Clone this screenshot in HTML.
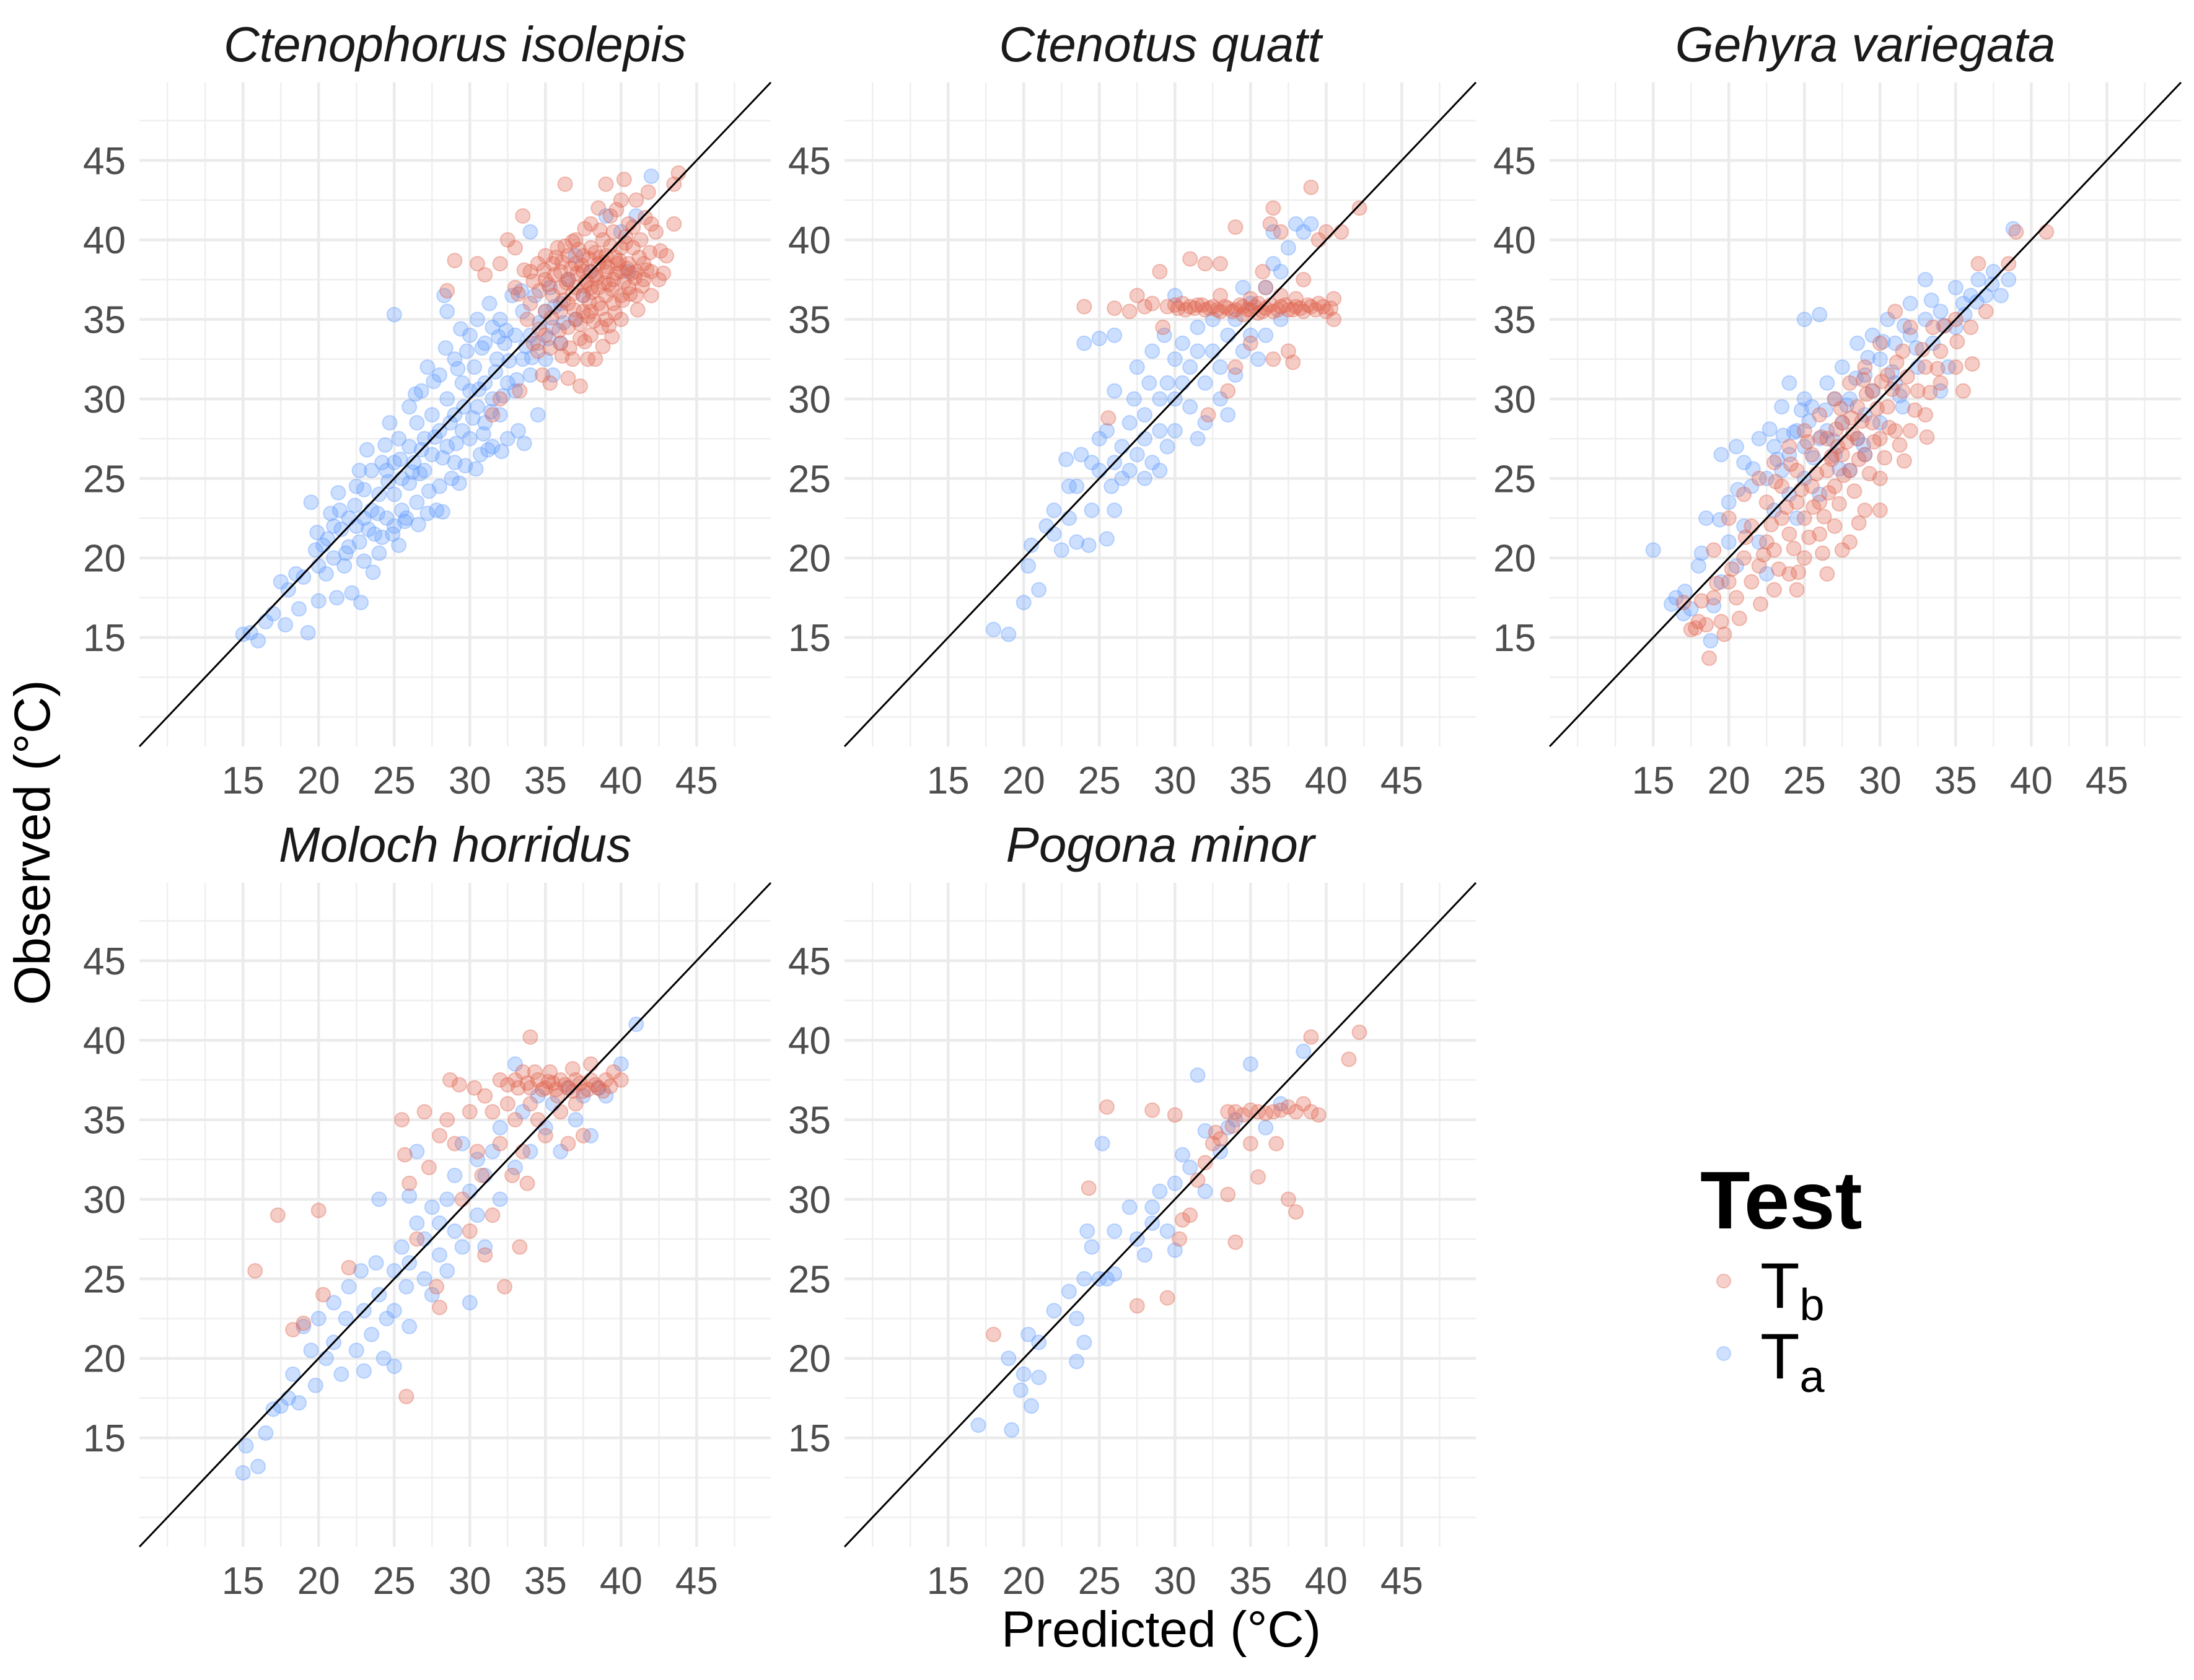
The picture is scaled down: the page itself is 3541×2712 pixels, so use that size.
<!DOCTYPE html>
<html><head><meta charset="utf-8">
<style>
html,body{margin:0;padding:0;background:#fff;}
svg{display:block;font-family:"Liberation Sans",Arial,sans-serif;}
</style></head>
<body>
<svg id="chart" width="3541" height="2712" viewBox="0 0 3541 2712" xmlns="http://www.w3.org/2000/svg">
<rect width="3541" height="2712" fill="#fff"/>
<g id="panels"></g>
<text x="0" y="0" transform="translate(80,1360) rotate(-90)" text-anchor="middle" font-size="82" fill="#000">Observed (°C)</text>
<text x="1874" y="2658" text-anchor="middle" font-size="82" fill="#000">Predicted (°C)</text>
<g>
<text x="2744" y="1983" font-size="132" font-weight="bold" fill="#000">Test</text>
<circle cx="2782" cy="2068" r="11" fill="#E0654F" fill-opacity="0.3" stroke="#E0654F" stroke-opacity="0.35" stroke-width="2"/>
<text x="2841" y="2111" font-size="104" fill="#000">T<tspan font-size="72" dy="20">b</tspan></text>
<circle cx="2782" cy="2185" r="11" fill="#619CFF" fill-opacity="0.3" stroke="#619CFF" stroke-opacity="0.35" stroke-width="2"/>
<text x="2841" y="2225" font-size="104" fill="#000">T<tspan font-size="72" dy="22">a</tspan></text>
</g>
</svg>
<script>
const speciesNames = ["Ctenophorus isolepis","Ctenotus quatt","Gehyra variegata","Moloch horridus","Pogona minor"];
const tickLabels = [15,20,25,30,35,40,45];
const minorGrid = [10,12.5,17.5,22.5,27.5,32.5,37.5,42.5,47.5];

const ciTa = [[15,15.2],[15.5,15.3],[16,14.8],[16.5,16],[17,16.5],[17.5,18.5],[18,18],[18.5,19],[18.7,16.8],[19,18.8],[19.5,23.5],[19.8,20.5],[20,19.5],[20,17.3],[20.3,20.8],[20.5,19],[21,22],[21,20],[21.2,17.5],[21.5,21.8],[21.7,19.5],[22,22.5],[22,20.7],[22.2,17.8],[22.5,24.5],[22.5,22],[22.7,21],[23,24.3],[23,22.5],[23,19.8],[23.2,26.8],[23.5,25.5],[23.5,23],[23.7,21.5],[24,24],[24,20.3],[24.2,26],[24.5,25.5],[24.5,22.5],[24.7,28.5],[25,26],[25,24],[25,22],[25,35.3],[25.3,27.5],[25.5,25],[25.5,23],[25.8,22.5],[26,29.5],[26,27],[26,24.7],[26.3,26],[26.5,28.5],[26.5,23.5],[26.8,30.5],[27,27.5],[27,25.5],[27.2,32],[27.5,29],[27.5,26.5],[27.8,23],[28,31.5],[28,28],[28,24.5],[28.3,36.5],[28.5,35.5],[28.5,30],[28.5,27],[28.8,25],[29,32.5],[29,29],[29,26],[29.3,24.7],[29.5,31],[29.5,28],[29.8,33],[30,30.5],[30,27.5],[30,34],[30.3,32],[30.5,29.5],[30.5,35],[30.7,26.5],[31,33.5],[31,31],[31,28.5],[31.3,36],[31.5,34.5],[31.5,30],[31.5,27],[31.8,32.5],[32,35],[32,29],[32.3,33.5],[32.5,31],[32.5,27.5],[32.8,36.5],[33,34],[33,30.5],[33.2,28],[33.5,35.5],[33.5,32.5],[34,34],[34,31.5],[34,40.5],[34.3,36.5],[34.5,33.5],[34.5,29],[35,35.5],[35,32.5],[35.3,37],[35.5,34.5],[35.5,31.5],[36,36],[36,33.5],[36.5,37.5],[37,35],[37,39],[38,38],[39,41.5],[40,40.5],[41,41.5],[42,44],[40.5,38],[37.5,36.5],[22.8,17.2],[19.3,15.3],[17.8,15.8],[21.4,23],[24.2,21.3],[26.7,25.3],[29.7,25.8],[31.2,26.8],[32.1,26.7],[28.2,22.9],[27.2,22.8]];
const ciTaExtra = [[20.6,21.2],[21.8,20.3],[22.4,23.3],[23.3,21.8],[23.9,22.8],[24.6,24.8],[24.9,21.5],[25.4,26.2],[25.7,22.3],[26.2,25.4],[26.8,26.8],[27.3,24.2],[27.7,27.6],[28.2,26.3],[28.7,28.5],[29.1,27.2],[29.6,29.5],[30.2,28.8],[30.6,30.6],[30.9,27.8],[31.4,29.2],[31.7,31.7],[32.2,30.2],[32.6,32.4],[33.1,31.2],[33.7,33.3],[34.1,32.6],[34.6,34.8],[35.2,33.8],[35.6,35.8],[36.2,34.8],[28.4,33.2],[27.6,31.1],[26.4,30.3],[29.4,34.4],[30.8,33.2],[32.4,34.3],[33.4,36.8],[24.4,27.1],[22.7,25.5],[21.3,24.1],[20.8,22.8],[19.9,21.6],[25.3,20.8],[26.6,22.1],[33.6,27.2],[30.4,25.6],[29.2,31.9],[31.9,33.9],[23.6,19.1]];
const ciTb = [[28.5,36.8],[29,38.7],[30.5,38.5],[31,37.8],[32,38.5],[32.5,40],[33,39.5],[33,37],[33.5,41.5],[33.8,35],[34,38],[34,36],[34.5,38.5],[34.5,33],[34.8,31.5],[35,39],[35,37.5],[35,35.5],[35,34],[35.3,31],[35.5,38.5],[35.5,36.5],[35.8,39.5],[36,38],[36,37],[36,35.5],[36,33.5],[36.3,43.5],[36.5,39],[36.5,37.5],[36.5,36],[36.5,34.5],[36.8,32.5],[37,38.5],[37,37],[37,35],[37,40],[37.3,33.8],[37.5,39],[37.5,38],[37.5,36.5],[37.5,35.5],[37.8,32.5],[38,41],[38,39.5],[38,38],[38,37],[38,35.5],[38,34],[38.3,32.5],[38.5,38.5],[38.5,37],[38.5,36],[38.5,42],[38.8,40],[39,39],[39,38],[39,36.5],[39,35],[39,43.5],[39.3,41.5],[39.5,37.5],[39.5,36],[39.5,40.5],[39.8,38.5],[40,42.5],[40,39.5],[40,38],[40,36.5],[40,35],[40.2,43.8],[40.5,41],[40.5,38.5],[40.5,37],[40.8,39.5],[41,38],[41,42.5],[41,36.5],[41.3,40],[41.5,38.5],[41.5,37.5],[41.8,43],[42,41],[42,38],[42,36.5],[42.3,40.5],[42.5,37.5],[43,39],[43.5,41],[43.8,44.2],[43.5,43.5],[37.3,30.8],[36.5,31.3],[33.3,30.5],[31.5,29],[32,30],[34.2,33.5],[38.7,34.5],[40.3,39.8],[39.6,38.9],[38.3,37.8],[37.7,37.4],[36.7,38.2],[39.2,37.2],[40.7,37.9],[37.9,36.1],[38.9,38.6]];
const ciTbExtra = [[35.2,37.2],[35.6,37.8],[36.1,38.6],[36.4,37.3],[36.8,36.6],[37.1,37.9],[37.4,38.4],[37.6,37.1],[37.9,38.8],[38.1,36.7],[38.4,37.6],[38.6,38.9],[38.9,37.3],[39.1,38.3],[39.4,36.9],[39.7,37.9],[39.9,38.7],[40.2,37.4],[40.4,38.2],[40.6,36.6],[40.9,37.6],[41.2,38.9],[41.4,37.1],[41.7,38.1],[41.9,39.2],[36.2,36.2],[36.9,35.6],[37.3,34.7],[37.8,35.2],[38.2,34.9],[38.7,35.7],[39.2,34.6],[39.6,35.4],[40.1,36.2],[35.4,35.1],[35.9,34.3],[36.6,33.2],[37.6,33.6],[38.8,33.3],[39.4,33.9],[34.6,36.8],[34.2,37.4],[33.6,38.1],[33.2,36.6],[34.9,38.1],[35.7,38.9],[36.3,39.6],[37.2,39.4],[38.3,39.2],[39.3,39.6],[40.3,40.2],[40.8,40.8],[41.6,41.4],[39.7,41.9],[38.6,40.6],[37.6,40.7],[36.8,39.9],[35.3,33.2],[34.6,34.4],[36.1,32.7],[42.6,39.3],[42.8,37.9],[41.1,35.6]];

const cqTa = [[18,15.5],[19,15.2],[20,17.2],[20.3,19.5],[20.5,20.8],[21,18],[21.5,22],[22,21.5],[22,23],[22.5,20.5],[22.8,26.2],[23,22.5],[23.5,21],[23.5,24.5],[23.8,26.5],[24,33.5],[24.3,20.8],[24.5,26],[24.5,23],[25,25.5],[25,27.5],[25,33.8],[25.5,21.2],[25.5,28],[25.8,24.5],[26,26],[26,30.5],[26,34],[26.5,25],[26.5,27],[27,28.5],[27,25.5],[27.3,30],[27.5,32],[27.5,26.5],[28,29],[28,27.5],[28,25],[28.3,31],[28.5,33],[28.5,26],[29,30],[29,28],[29,25.5],[29.3,34],[29.5,31],[29.5,27],[30,32.5],[30,30],[30,36.5],[30,28],[30.5,33.5],[30.5,31],[31,32],[31,29.5],[31.5,33],[31.5,34.5],[32,31],[32,28.5],[32.5,33],[32.5,35],[33,32],[33,30],[33.5,34],[34,31.5],[34,35],[34.5,33],[35,34],[35,36],[35.5,32.5],[36,37],[36,34],[36.5,38.5],[37,38],[37,35],[37.5,39.5],[38,41],[38.5,40.5],[39,41],[36.5,40.5],[34.5,37],[33.5,29],[31.5,27.5],[26,23],[23,24.5]];
const cqTb = [[24,35.8],[26,35.7],[27,35.5],[27.5,36.5],[28,35.8],[28.5,36],[29,38],[29.5,35.8],[30,35.9],[30.2,35.7],[30.5,36],[31,35.8],[31,38.8],[31.5,35.9],[32,35.6],[32,38.5],[32.5,35.8],[33,35.5],[33,36.5],[33,38.5],[33.5,35.7],[34,35.6],[34,40.8],[34.5,35.8],[34.5,35.3],[35,35.6],[35,36.3],[35.5,35.4],[35.5,36],[35.8,38],[36,35.7],[36,37],[36.3,41],[36.5,35.5],[36.5,42],[37,35.8],[37,36.5],[37,40.5],[37.5,35.6],[37.5,33],[37.8,32.3],[38,35.8],[38,36.3],[38.5,35.5],[38.5,37.5],[39,35.8],[39,43.3],[39.5,36],[39.5,40],[40,35.5],[40,40.5],[40.5,35],[40.5,36.3],[41,40.5],[42.2,42],[35,33.5],[34,32],[36.5,32.5],[33.5,30.5],[32.2,29],[29.2,34.5],[25.6,28.8]];
const cqTbExtra = [[30.7,35.6],[31.3,35.7],[31.8,35.9],[32.3,35.7],[32.8,35.6],[33.3,35.8],[33.8,35.5],[34.3,35.9],[34.8,35.6],[35.3,35.8],[35.8,35.5],[36.3,35.9],[36.8,35.6],[37.3,35.9],[37.8,35.6],[38.3,35.7],[38.8,35.9],[39.3,35.6],[39.8,35.8],[40.3,35.7]];

const gvTa = [[15,20.5],[16.5,17.5],[17,16.5],[17.5,16.8],[18,19.5],[18.5,22.5],[18.8,14.8],[19,17],[19.5,18.5],[19.5,26.5],[20,21],[20,23.5],[20.5,19.5],[21,26],[21,22],[21.5,24.5],[22,27.5],[22,21],[22.5,25],[23,23],[23,27],[23.5,29.5],[23.5,25.5],[24,26.5],[24,24],[24,31],[24.5,28],[24.5,22.5],[25,27],[25,35],[25,25],[25.5,29.5],[26,35.3],[26,27.5],[26,24],[26.5,31],[26.5,28],[27,26.5],[27,30],[27.5,32],[27.5,28.5],[28,25.5],[28,30],[28.5,33.5],[28.5,27.5],[29,31.5],[29,29],[29.5,34],[29.5,30.5],[30,28.5],[30,32.5],[30.5,35],[31,31],[31,33.5],[31.5,29.5],[32,34],[32,36],[32.5,32],[33,35],[33,37.5],[33.5,33.5],[34,35.5],[34.5,32],[35,34.5],[35,37],[35.5,36],[36,36.5],[36.5,37.5],[37,36.5],[37.5,38],[38,36.5],[38.5,37.5],[38.8,40.7],[34,30.5],[29,26.5],[25,30],[22.5,19],[20.5,27]];
const gvTaExtra = [[23.2,26.2],[24.3,27.9],[25.3,28.6],[25.6,26.3],[26.4,29.3],[26.9,27.4],[27.8,29.6],[28.4,31.3],[29.2,32.6],[30.2,33.6],[30.8,31.7],[31.6,34.6],[32.4,33.2],[33.4,36.2],[34.2,34.6],[24.8,29.3],[22.7,28.1],[21.6,25.6],[20.6,24.3],[19.4,22.4],[18.2,20.3],[17.1,17.9],[16.2,17.1],[23.6,27.7],[35.6,35.3],[36.4,36.1],[37.4,37.2],[28.9,27.1],[27.3,25.6],[31.3,30.2]];
const gvTb = [[17,17.2],[17.5,15.5],[18,16],[18.5,15.8],[18.7,13.7],[19,17.5],[19,20.5],[19.5,16],[20,18.5],[20,22.5],[20.5,17.5],[21,20],[21,24],[21.5,18.5],[21.5,22],[22,19.5],[22,25],[22.5,21],[22.5,23.5],[23,18],[23,26],[23,20.5],[23.5,22.5],[23.5,24.5],[24,19],[24,27],[24,21.5],[24.5,23.5],[24.5,25.5],[25,20],[25,28],[25,22.5],[25.5,24.5],[25.5,26.5],[26,21.5],[26,29],[26,23.5],[26.5,25.5],[26.5,27.5],[27,22],[27,30],[27,24.5],[27.5,26.5],[27.5,28.5],[28,21],[28,31],[28,25.5],[28.5,27.5],[28.5,29.5],[29,23],[29,32],[29,26.5],[29.5,28.5],[29.5,30.5],[30,25],[30,33.5],[30,27.5],[30.5,29.5],[30.5,31.5],[31,28],[31,35.5],[31.5,30.5],[31.5,33],[32,28],[32,34.5],[32.5,30.5],[33,32],[33,29],[33.5,34.5],[34,31],[34,33],[35,32],[35,35],[35.5,30.5],[36,34.5],[36.5,38.5],[37,35.5],[38.5,38.5],[39,40.5],[41,40.5],[26.5,19],[24.5,18],[27.5,20.5],[30,23],[25.2,27.3],[27.2,27],[28.2,27.8],[26.8,26.2]];
const gvTbExtra = [[22.3,20.2],[22.8,22.1],[23.3,19.3],[23.8,23.2],[24.3,20.6],[24.8,24.3],[25.3,21.3],[25.8,25.3],[26.3,22.6],[26.8,26.4],[27.3,23.4],[27.8,27.3],[28.3,24.2],[28.8,28.6],[29.3,25.3],[29.8,29.4],[30.3,26.3],[30.8,30.6],[31.3,27.1],[31.8,31.4],[32.3,29.3],[32.8,33.1],[33.3,30.4],[33.8,31.9],[34.3,34.6],[25.6,23.2],[26.6,24.1],[27.6,25.2],[28.6,26.2],[29.6,27.3],[30.6,28.2],[28.1,28.8],[27.1,28.1],[26.1,27.6],[29.1,30.3],[30.1,31.1],[31.1,32.3],[24.1,25.9],[23.1,24.8],[21.1,21.3],[20.2,19.3],[19.2,18.4],[18.2,17.3],[17.8,15.6],[19.7,15.2],[20.7,16.2],[22.1,17.1],[24.6,19.1],[26.2,20.3],[28.6,22.2],[31.6,26.1],[33.1,27.6],[35.1,33.6],[36.1,32.2],[27.4,29.4],[28.9,31.2]];

const mhTa = [[15,12.8],[15.2,14.5],[16,13.2],[16.5,15.3],[17,16.8],[17.5,17],[18,17.5],[18.3,19],[18.7,17.2],[19,22],[19.5,20.5],[19.8,18.3],[20,22.5],[20.5,20],[21,23.5],[21,21],[21.5,19],[21.8,22.5],[22,24.5],[22.5,20.5],[22.8,25.5],[23,23],[23,19.2],[23.5,21.5],[23.8,26],[24,24],[24,30],[24.3,20],[24.5,22.5],[25,25.5],[25,23],[25,19.5],[25.5,27],[25.8,24.5],[26,26],[26,22],[26.5,28.5],[26.5,33],[27,25],[27,27.5],[27.5,29.5],[27.5,24],[28,26.5],[28,28.5],[28.5,30],[28.5,25.5],[29,28],[29,31.5],[29.5,27],[29.5,33.5],[30,30.5],[30,23.5],[30.5,29],[30.5,32.5],[31,27],[31,31.5],[31.5,33],[32,30],[32,34.5],[33,32],[33.5,35.5],[34,33],[34.5,36.5],[35,34.5],[35.5,36],[36,33],[36.5,37],[37,35],[37.5,36.5],[38,34],[38.5,37],[39,36.5],[40,38.5],[41,41],[33,38.5],[26,30.2]];
const mhTb = [[15.8,25.5],[17.3,29],[18.3,21.8],[19,22.2],[20,29.3],[20.3,24],[22,25.7],[25.8,17.6],[25.5,35],[25.7,32.8],[26,31],[26.5,27.5],[27,35.5],[27.3,32],[27.8,24.5],[28,34],[28,23.2],[28.5,35],[28.7,37.5],[29,33.5],[29.3,37.2],[29.5,30],[30,35.5],[30,28],[30.3,37],[30.5,33],[30.8,31.5],[31,36.5],[31,26.5],[31.5,35.5],[31.5,29],[32,37.5],[32,33.5],[32.3,24.5],[32.5,36],[32.8,31.5],[33,37.5],[33,35],[33.3,27],[33.5,38],[33.5,33],[34,40.2],[34,37],[34,36],[34.3,38],[34.5,37.5],[34.5,35],[35,37],[35,34],[35.3,38],[35.5,37.3],[35.8,36.5],[36,37.5],[36,35.5],[36.5,37],[36.5,33.5],[37,37.5],[37,36],[37.5,36.8],[37.5,34],[38,37.5],[38,38.5],[38.5,37],[39,37.5],[39.5,38],[40,37.5],[36.8,38.2],[33.8,31]];
const mhTbExtra = [[32.5,37.2],[33.2,37],[33.8,37.3],[34.8,36.9],[35.2,37.4],[35.7,36.9],[36.3,37.2],[36.8,36.8],[37.3,37.3],[37.8,36.9],[38.3,37.2],[38.8,36.8],[39.3,37.1]];

const pmTa = [[17,15.8],[19,20],[19.2,15.5],[19.8,18],[20,19],[20.3,21.5],[20.5,17],[21,18.8],[21,21],[22,23],[23,24.2],[23.5,19.8],[24,21],[24,25],[24.2,28],[25,25],[25.5,25],[26,25.3],[26,28],[27,29.5],[27.5,27.5],[28,26.5],[28.5,29.5],[29,30.5],[29.5,28],[30,31],[30,26.8],[30.5,32.8],[31,32],[31.5,37.8],[32,30.5],[32,34.3],[33,33],[33.5,34.5],[34,35],[35,38.5],[36,34.5],[38.5,39.3],[37,36],[25.2,33.5],[23.5,22.5],[24.5,27],[28.5,28.5]];
const pmTb = [[18,21.5],[24.3,30.7],[25.5,35.8],[27.5,23.3],[28.5,35.6],[29.5,23.8],[30,35.3],[30.3,27.5],[30.5,28.7],[31,29],[31.5,31.2],[32,32.3],[32.5,33.5],[33,33.8],[33.5,35.5],[33.5,30.3],[34,27.3],[34,35.5],[34.5,35.3],[35,35.6],[35,33.5],[35.5,35.5],[35.5,31.4],[36,35.4],[36.5,35.5],[37,35.6],[37.5,30],[37.5,35.8],[38,29.2],[38,35.5],[38.5,36],[39,35.5],[39,40.2],[39.5,35.3],[41.5,38.8],[42.2,40.5],[32.7,34.2],[36.7,33.5],[33.8,34.6]];

const taSeries = [ciTa.concat(ciTaExtra), cqTa, gvTa.concat(gvTaExtra), mhTa, pmTa];
const tbSeries = [ciTb.concat(ciTbExtra), cqTb.concat(cqTbExtra), gvTb.concat(gvTbExtra), mhTb.concat(mhTbExtra), pmTb];

const NS = "http://www.w3.org/2000/svg";
const DMIN = 8.15, DMAX = 49.9;
const PW = 1019, PH = 1072;
const lefts = [225, 1363, 2501, 225, 1363];
const tops = [133, 133, 133, 1425, 1425];
const slugs = ["ctenophorus-isolepis","ctenotus-quatt","gehyra-variegata","moloch-horridus","pogona-minor"];

function el(tag, attrs, parent){
  const e = document.createElementNS(NS, tag);
  for (const k in attrs) e.setAttribute(k, attrs[k]);
  parent.appendChild(e);
  return e;
}
const root = document.getElementById('panels');

speciesNames.forEach((name, i) => {
  const L = lefts[i], T = tops[i];
  const sx = v => L + (v - DMIN) / (DMAX - DMIN) * PW;
  const sy = v => T + PH - (v - DMIN) / (DMAX - DMIN) * PH;
  const g = el('g', {}, root);
  
  

  minorGrid.forEach(v => {
    const a = el('line', {x1: sx(v), x2: sx(v), y1: T, y2: T + PH, stroke: '#efefef', 'stroke-width': 2.5}, g);
    
    
    const b = el('line', {x1: L, x2: L + PW, y1: sy(v), y2: sy(v), stroke: '#efefef', 'stroke-width': 2.5}, g);
    
    
  });
  tickLabels.forEach(v => {
    const a = el('line', {x1: sx(v), x2: sx(v), y1: T, y2: T + PH, stroke: '#ebebeb', 'stroke-width': 4.5}, g);
    
    
    const b = el('line', {x1: L, x2: L + PW, y1: sy(v), y2: sy(v), stroke: '#ebebeb', 'stroke-width': 4.5}, g);
    
    
    const tx = el('text', {x: sx(v), y: T + PH + 76, 'text-anchor': 'middle', 'font-size': 62, fill: '#4d4d4d'}, g);
    tx.textContent = v;
    
    
    const ty = el('text', {x: L - 22, y: sy(v) + 22, 'text-anchor': 'end', 'font-size': 62, fill: '#4d4d4d'}, g);
    ty.textContent = v;
    
    
  });

  const title = el('text', {x: L + PW / 2, y: T - 34, 'text-anchor': 'middle', 'font-size': 80, 'font-style': 'italic', fill: '#1a1a1a'}, g);
  title.textContent = name;
  
  

  taSeries[i].forEach(p => {
    const c = el('circle', {cx: sx(p[0]), cy: sy(p[1]), r: 11.5, fill: '#619CFF', 'fill-opacity': 0.32, stroke: '#619CFF', 'stroke-opacity': 0.38, 'stroke-width': 2}, g);
    
    
  });
  tbSeries[i].forEach(p => {
    const c = el('circle', {cx: sx(p[0]), cy: sy(p[1]), r: 11.5, fill: '#E0654F', 'fill-opacity': 0.32, stroke: '#E0654F', 'stroke-opacity': 0.38, 'stroke-width': 2}, g);
    
    
  });

  const d = el('line', {x1: sx(DMIN), y1: sy(DMIN), x2: sx(DMAX), y2: sy(DMAX), stroke: '#000', 'stroke-width': 3}, g);
  
  
});
</script>
</body></html>
